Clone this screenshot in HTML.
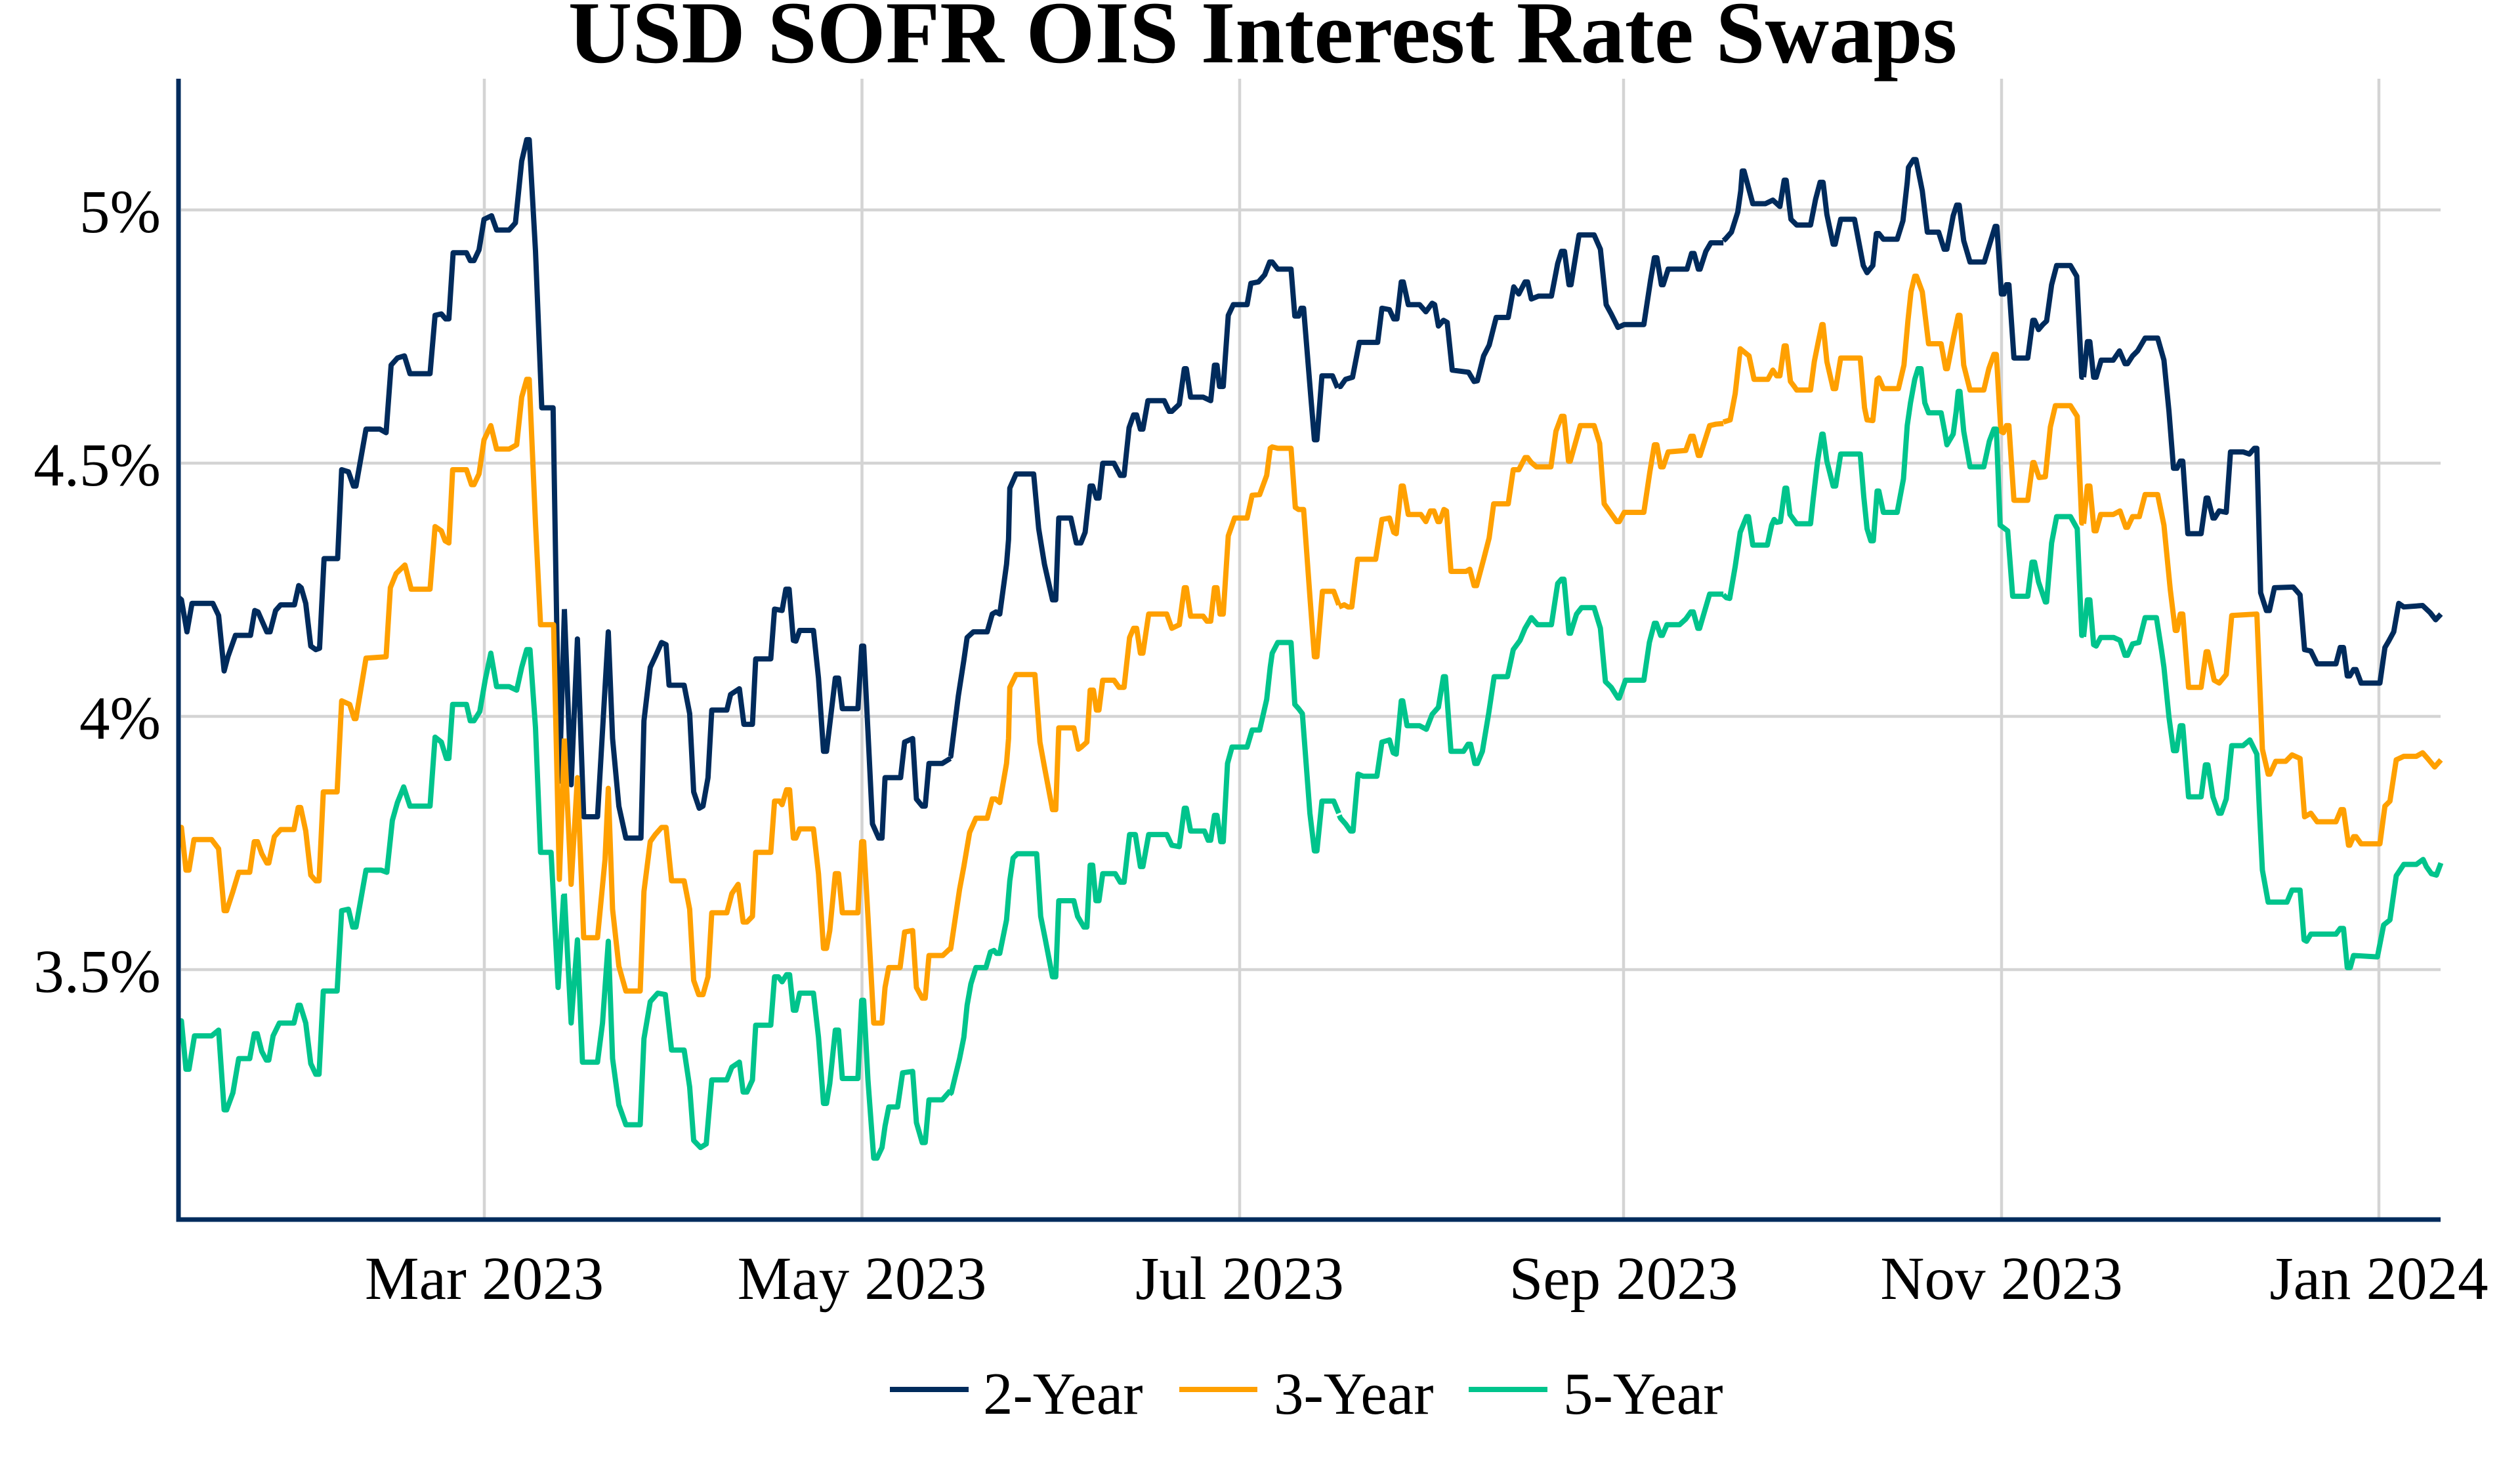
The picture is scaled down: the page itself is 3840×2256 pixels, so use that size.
<!DOCTYPE html>
<html>
<head>
<meta charset="utf-8">
<style>
  html, body { margin: 0; padding: 0; background: #ffffff; }
  body { width: 3840px; height: 2256px; overflow: hidden; }
  svg { display: block; }
  .t { font-family: "Liberation Serif", "Times New Roman", serif; fill: #000; }
  .n { fill: none; stroke: #002B5C; stroke-width: 8; stroke-linejoin: round; }
  .o { fill: none; stroke: #FFA000; stroke-width: 8; stroke-linejoin: round; }
  .g { fill: none; stroke: #00C48C; stroke-width: 8; stroke-linejoin: round; }
</style>
</head>
<body>
<svg width="3840" height="2256" viewBox="0 0 3840 2256" xmlns="http://www.w3.org/2000/svg">
  <rect x="0" y="0" width="3840" height="2256" fill="#ffffff"/>

  <!-- gridlines -->
  <g stroke="#D4D4D4" stroke-width="4.5">
    <line x1="276" y1="320" x2="3719" y2="320"/>
    <line x1="276" y1="706" x2="3719" y2="706"/>
    <line x1="276" y1="1092" x2="3719" y2="1092"/>
    <line x1="276" y1="1478" x2="3719" y2="1478"/>
    <line x1="738" y1="120" x2="738" y2="1856"/>
    <line x1="1313.5" y1="120" x2="1313.5" y2="1856"/>
    <line x1="1889" y1="120" x2="1889" y2="1856"/>
    <line x1="2474" y1="120" x2="2474" y2="1856"/>
    <line x1="3050" y1="120" x2="3050" y2="1856"/>
    <line x1="3625" y1="120" x2="3625" y2="1856"/>
  </g>

  <!-- Strip A -->
  <g transform="translate(265,150) scale(0.382653,1.084184)">
    <polyline class="n" vector-effect="non-scaling-stroke" points="20,702 30,705 52,750 72,710 155,710 178,727 200,805 215,785 245,755 305,755 322,720 335,722 370,750 383,750 405,720 425,712 480,712 497,685 507,688 525,710 545,770 565,775 580,773 598,647 652,647 668,522 695,525 715,545 725,545 765,465 820,465 845,470 865,375 890,365 918,362 940,387 1020,387 1040,305 1065,303 1082,310 1095,310 1112,217 1165,217 1180,228 1195,228 1215,213 1235,170 1265,165 1285,185 1335,185 1360,175 1385,88 1405,58 1415,58 1440,215 1465,435 1510,435 1535,960 1555,720"/>
    <polyline class="o" vector-effect="non-scaling-stroke" points="20,1025 30,1025 48,1085 60,1085 80,1042 150,1042 178,1055 200,1142 210,1142 235,1115 258,1088 302,1088 320,1045 333,1045 350,1062 370,1075 378,1075 400,1038 425,1028 478,1028 495,997 505,997 525,1030 545,1092 565,1100 578,1100 595,975 650,975 668,847 700,852 718,872 725,872 765,787 845,785 862,688 885,668 920,656 945,690 1020,690 1040,602 1065,608 1080,622 1095,625 1110,522 1165,522 1185,543 1195,543 1215,528 1235,480 1262,460 1285,493 1335,493 1365,487 1385,420 1405,395 1415,395 1440,598 1460,740 1512,740 1535,1098 1555,900"/>
    <polyline class="g" vector-effect="non-scaling-stroke" points="20,1297 30,1297 48,1365 60,1365 82,1318 150,1318 178,1310 200,1422 210,1422 235,1398 258,1350 302,1350 320,1315 332,1315 350,1340 368,1352 378,1352 395,1318 420,1300 478,1300 495,1275 503,1275 525,1300 545,1357 565,1372 578,1372 595,1255 650,1255 668,1142 695,1140 712,1165 725,1165 765,1085 825,1085 848,1088 870,1015 890,990 915,968 940,995 1020,995 1040,898 1065,905 1085,928 1095,928 1110,852 1165,852 1180,875 1195,875 1218,862 1240,817 1262,780 1285,827 1335,827 1365,832 1385,800 1405,775 1418,775 1440,885 1460,1060 1502,1060 1530,1250 1552,1120"/>
  </g>

  <!-- Strip B -->
  <g transform="translate(855,150) scale(0.382653,1.084184)">
    <polyline class="n" vector-effect="non-scaling-stroke" points="13,718 40,965 65,760 90,1010 145,1010 188,750 205,900 230,995 258,1040 318,1040 330,875 355,800 375,785 400,765 418,768 430,825 490,825 512,865 528,975 550,998 565,995 585,955 600,860 660,860 675,838 710,830 728,880 762,880 775,788 835,788 850,718 880,720 895,690 908,690 925,762 935,763 950,748 1005,748 1025,815 1045,918 1057,918 1070,880 1092,815 1105,815 1120,858 1182,858 1197,770 1205,770 1222,890 1240,1020 1265,1040 1278,1040 1290,955 1352,955 1368,905 1400,900 1415,985 1438,995 1450,995 1465,935 1518,935 1550,928"/>
    <polyline class="o" vector-effect="non-scaling-stroke" points="13,900 40,1105 65,955 90,1180 145,1180 175,1070 188,970 205,1140 230,1220 258,1255 315,1255 330,1115 355,1045 375,1035 400,1025 418,1025 440,1100 490,1100 512,1140 528,1240 548,1260 565,1260 585,1235 600,1145 660,1145 680,1118 705,1105 725,1158 740,1158 762,1150 775,1060 835,1060 850,988 870,988 880,993 898,972 910,972 925,1040 935,1040 950,1027 1005,1027 1025,1090 1045,1195 1057,1195 1070,1170 1092,1090 1105,1090 1120,1145 1182,1145 1197,1045 1205,1045 1222,1150 1245,1300 1278,1300 1290,1250 1305,1222 1350,1222 1368,1172 1400,1170 1415,1250 1438,1265 1450,1265 1465,1205 1520,1205 1550,1195"/>
    <polyline class="g" vector-effect="non-scaling-stroke" points="13,1118 40,1300 65,1183 85,1355 145,1355 165,1300 188,1185 205,1350 230,1415 258,1443 315,1443 330,1322 355,1270 385,1258 415,1260 440,1338 490,1338 512,1390 528,1465 555,1475 578,1470 600,1380 660,1380 680,1362 710,1355 725,1397 740,1397 762,1380 775,1303 835,1303 850,1235 865,1235 880,1242 898,1232 910,1232 925,1282 935,1282 950,1258 1005,1258 1025,1320 1045,1413 1057,1413 1070,1385 1092,1310 1105,1310 1120,1378 1182,1378 1197,1268 1205,1268 1222,1380 1245,1490 1258,1490 1278,1475 1290,1445 1305,1418 1340,1418 1360,1370 1400,1368 1415,1440 1438,1468 1450,1468 1465,1408 1518,1408 1550,1395"/>
  </g>

  <!-- Strip C -->
  <g transform="translate(1445,150) scale(0.382653,1.084184)">
    <polyline class="n" vector-effect="non-scaling-stroke" points="5,925 10,925 40,840 62,790 75,758 100,750 155,750 175,725 190,722 205,725 232,655 240,620 245,548 270,528 340,528 360,605 383,655 415,705 428,705 440,590 488,590 510,625 528,625 545,610 565,545 575,545 590,562 600,562 615,513 660,513 685,530 700,530 720,463 738,445 750,445 765,465 775,465 795,425 860,425 880,440 890,440 920,430 940,380 948,380 965,420 1015,420 1045,425 1060,375 1070,375 1080,405 1095,405 1115,305 1135,290 1190,290 1205,260 1235,258 1260,248 1280,230 1290,230 1312,240 1365,240 1380,306 1395,306 1405,295 1415,295 1445,425 1458,480 1468,480 1488,390 1530,390 1550,407"/>
    <polyline class="o" vector-effect="non-scaling-stroke" points="5,1198 10,1195 45,1112 62,1080 85,1032 110,1012 155,1012 175,985 188,985 205,990 232,935 240,900 245,828 270,810 345,810 365,905 383,940 415,1000 428,1000 440,885 500,885 518,915 530,912 552,905 565,832 578,832 590,860 600,860 615,818 660,818 680,828 700,828 722,758 738,745 750,745 765,780 775,780 798,725 870,725 890,745 920,740 940,688 948,688 965,728 1015,728 1030,735 1045,735 1060,688 1070,688 1082,725 1095,725 1115,615 1140,590 1190,590 1210,558 1240,557 1268,530 1282,492 1290,490 1312,492 1365,492 1382,575 1395,578 1415,578 1440,700 1458,785 1468,785 1490,693 1535,693 1555,712"/>
    <polyline class="g" vector-effect="non-scaling-stroke" points="5,1400 12,1398 45,1350 62,1320 75,1275 90,1245 110,1222 150,1222 168,1200 182,1198 192,1202 205,1202 232,1155 245,1100 258,1068 275,1062 352,1062 368,1150 385,1180 415,1235 428,1235 440,1128 500,1128 515,1150 540,1165 552,1165 565,1078 575,1078 588,1128 600,1128 615,1090 665,1090 685,1102 700,1102 722,1035 745,1035 765,1080 775,1080 798,1035 870,1035 890,1050 920,1052 940,998 948,998 965,1030 1020,1030 1035,1043 1045,1043 1060,1008 1070,1008 1085,1045 1095,1045 1112,935 1130,912 1190,912 1210,888 1240,888 1268,845 1282,800 1290,780 1312,765 1365,765 1380,852 1395,858 1410,865 1440,1005 1458,1058 1468,1058 1488,988 1535,988 1555,1005"/>
  </g>

  <!-- Strip D -->
  <g transform="translate(2035,150) scale(0.382653,1.084184)">
    <polyline class="n" vector-effect="non-scaling-stroke" points="12,405 20,405 40,395 68,392 95,343 168,343 185,295 215,297 232,310 245,310 262,258 270,258 290,290 335,290 360,300 385,288 395,290 410,320 430,312 445,315 465,382 530,385 552,398 565,397 590,362 612,347 640,308 688,308 710,265 730,275 755,258 765,258 780,282 808,278 860,278 885,232 900,215 912,215 930,262 938,262 970,192 1030,192 1055,212 1078,290 1098,303 1125,322 1150,318 1228,318 1255,255 1270,224 1280,224 1298,262 1305,262 1325,240 1400,240 1418,218 1428,218 1445,240 1452,240 1475,215 1495,203 1545,203"/>
    <polyline class="o" vector-effect="non-scaling-stroke" points="14,715 35,712 50,715 65,715 88,648 160,648 185,592 215,590 232,610 242,612 262,545 270,545 290,585 340,585 360,595 378,580 392,580 408,595 415,595 432,578 442,580 460,665 520,665 535,662 552,685 562,685 590,648 612,618 630,570 688,570 708,522 730,522 755,505 765,505 780,512 800,518 858,518 878,468 900,447 910,447 928,510 935,510 975,460 1030,460 1052,485 1070,570 1100,585 1120,595 1130,595 1150,582 1228,582 1252,525 1270,487 1280,487 1295,518 1305,518 1325,497 1395,495 1415,475 1425,475 1445,502 1452,502 1490,460 1515,458 1545,457"/>
    <polyline class="g" vector-effect="non-scaling-stroke" points="15,1008 20,1012 40,1020 60,1030 70,1030 90,950 110,953 165,953 185,905 215,902 230,920 242,922 262,847 268,847 285,882 335,882 362,887 385,866 410,856 430,813 438,813 460,918 510,918 528,908 538,908 555,935 565,935 585,918 610,865 632,813 685,813 708,775 735,762 755,745 780,730 805,740 860,740 875,705 885,682 900,676 910,676 930,752 936,752 960,725 980,716 1030,716 1055,745 1075,820 1098,828 1125,843 1130,843 1155,818 1228,818 1250,765 1270,738 1278,738 1295,755 1302,755 1320,740 1370,740 1395,732 1415,722 1425,722 1443,745 1450,745 1490,697 1545,697"/>
  </g>

  <!-- Strip E -->
  <g transform="translate(2625,150) scale(0.382653,1.084184)">
    <polyline class="n" vector-effect="non-scaling-stroke" points="3,200 10,198 35,188 60,160 72,130 78,102 85,102 120,148 170,148 200,143 228,152 245,115 253,115 265,150 272,170 295,178 350,178 370,142 388,118 400,118 415,163 425,180 440,205 448,205 470,170 525,170 560,235 575,245 598,235 612,190 622,190 640,198 695,198 718,172 735,118 740,97 760,86 770,86 795,130 815,188 860,188 882,212 893,212 918,165 932,150 942,150 960,200 985,230 1042,230 1065,203 1085,180 1092,180 1110,275 1120,275 1130,262 1140,262 1160,365 1215,365 1235,312 1242,312 1258,325 1275,318 1290,313 1310,262 1330,235 1385,235 1410,250 1430,392 1438,392"/>
    <polyline class="o" vector-effect="non-scaling-stroke" points="3,455 30,452 50,415 70,352 105,362 125,395 180,395 200,382 215,390 228,390 245,348 253,348 270,398 285,405 295,410 350,410 365,370 382,340 395,318 400,318 415,370 440,408 450,408 470,365 548,365 565,435 575,452 598,453 615,395 622,393 640,408 700,408 722,375 738,312 750,272 765,250 772,250 795,272 820,345 870,345 888,380 895,380 920,335 938,305 945,305 960,375 985,410 1040,410 1060,380 1080,360 1090,360 1108,468 1118,470 1130,460 1140,460 1160,565 1215,565 1235,512 1240,512 1260,533 1285,532 1305,462 1325,432 1385,432 1412,447 1430,597 1438,597"/>
    <polyline class="g" vector-effect="non-scaling-stroke" points="3,698 15,702 28,703 50,658 70,610 95,588 103,588 120,628 178,628 195,600 205,592 215,596 230,595 248,548 255,548 268,585 295,598 350,598 360,565 378,510 395,472 400,472 415,510 440,545 450,545 470,500 548,500 562,560 575,605 590,622 600,622 615,552 622,552 640,582 695,582 720,535 735,460 748,428 765,395 778,380 790,380 805,428 820,442 870,442 885,470 893,487 918,472 930,440 938,412 945,412 960,468 985,518 1040,518 1062,482 1080,465 1090,465 1105,600 1135,608 1155,700 1215,700 1232,652 1242,652 1258,680 1285,708 1290,708 1310,625 1330,588 1385,588 1412,605 1430,755 1438,755"/>
  </g>

  <!-- Strip F -->
  <g transform="translate(3175,150) scale(0.382653,1.084184)">
    <polyline class="n" vector-effect="non-scaling-stroke" points="0,392 15,342 25,342 40,392 50,392 70,368 118,368 143,355 165,373 175,373 195,362 215,355 245,337 295,337 320,368 340,440 358,520 372,520 385,510 395,510 415,612 468,612 488,562 495,562 515,590 522,590 540,580 568,582 585,497 635,497 660,500 680,492 690,492 705,695 728,720 740,720 760,688 835,687 862,698 880,775 905,777 930,795 1005,795 1022,772 1035,772 1050,812 1060,812 1075,803 1085,803 1105,822 1180,822 1200,772 1215,763 1235,750 1255,710 1275,715 1350,713 1380,723 1402,733 1423,725"/>
    <polyline class="o" vector-effect="non-scaling-stroke" points="0,598 15,545 25,545 42,608 50,608 68,585 118,585 145,580 168,603 175,603 195,588 222,588 245,557 295,557 320,600 345,690 365,748 372,748 385,725 395,725 418,828 468,828 488,778 495,778 520,818 540,822 568,810 590,727 690,725 712,915 735,950 742,950 765,932 805,932 830,923 862,928 880,1010 905,1005 930,1017 1005,1017 1025,1000 1035,1000 1055,1050 1060,1050 1075,1038 1085,1038 1105,1048 1180,1048 1200,995 1220,988 1245,930 1275,925 1325,925 1350,920 1370,928 1398,940 1423,930"/>
    <polyline class="g" vector-effect="non-scaling-stroke" points="0,757 15,705 25,705 40,768 50,770 68,758 120,758 145,762 165,783 175,783 195,767 220,765 245,730 290,730 310,775 320,800 340,870 358,917 370,917 385,882 395,882 418,982 468,982 485,937 495,937 515,982 538,1005 548,1005 568,985 590,910 635,910 662,902 690,922 700,1000 712,1085 735,1130 810,1130 830,1113 862,1113 878,1183 888,1185 905,1175 1005,1175 1022,1167 1035,1167 1050,1222 1062,1222 1075,1205 1170,1207 1195,1162 1220,1155 1245,1093 1275,1077 1325,1077 1352,1070 1365,1080 1385,1090 1405,1092 1423,1075"/>
  </g>

  <!-- axis lines -->
  <line x1="272" y1="120" x2="272" y2="1862.5" stroke="#002B5C" stroke-width="7"/>
  <line x1="268.5" y1="1859" x2="3719" y2="1859" stroke="#002B5C" stroke-width="7"/>

  <!-- title -->
  <text class="t" x="1924" y="95" font-size="135" font-weight="bold" text-anchor="middle">USD SOFR OIS Interest Rate Swaps</text>

  <!-- y tick labels -->
  <g class="t" font-size="93" text-anchor="end">
    <text x="245" y="354">5%</text>
    <text x="245" y="740">4.5%</text>
    <text x="245" y="1126">4%</text>
    <text x="245" y="1512">3.5%</text>
  </g>

  <!-- x tick labels -->
  <g class="t" font-size="93" text-anchor="middle">
    <text x="738" y="1980">Mar 2023</text>
    <text x="1313.5" y="1980">May 2023</text>
    <text x="1889" y="1980">Jul 2023</text>
    <text x="2474" y="1980">Sep 2023</text>
    <text x="3050" y="1980">Nov 2023</text>
    <text x="3625" y="1980">Jan 2024</text>
  </g>

  <!-- legend -->
  <line x1="1356" y1="2118" x2="1476" y2="2118" stroke="#002B5C" stroke-width="8"/>
  <text class="t" x="1498" y="2155" font-size="91">2-Year</text>
  <line x1="1797" y1="2118" x2="1916" y2="2118" stroke="#FFA000" stroke-width="8"/>
  <text class="t" x="1941" y="2155" font-size="91">3-Year</text>
  <line x1="2238" y1="2118" x2="2358" y2="2118" stroke="#00C48C" stroke-width="8"/>
  <text class="t" x="2382" y="2155" font-size="91">5-Year</text>
</svg>
</body>
</html>
